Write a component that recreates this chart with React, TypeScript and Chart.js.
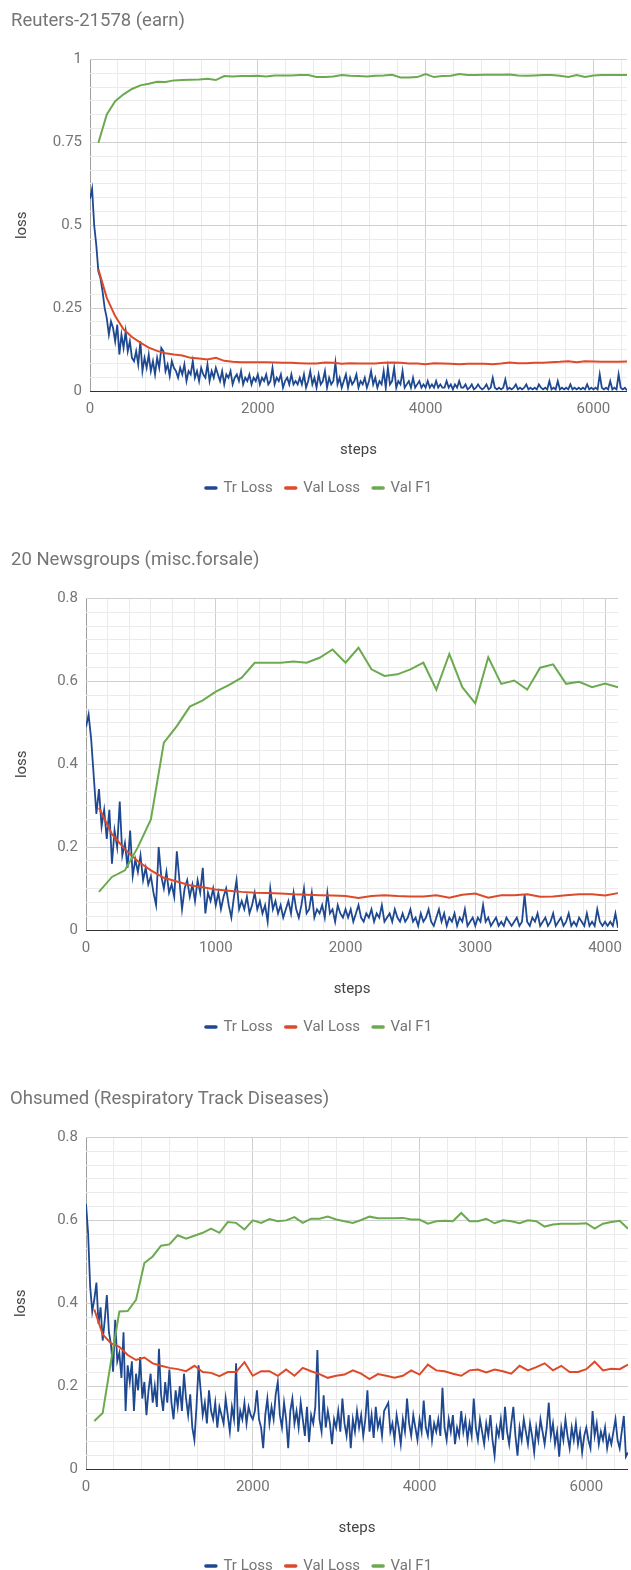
import React, { useEffect, useRef } from "react";
import { Chart, registerables } from "chart.js";

Chart.register(...registerables);

// ---------------- DATA ----------------
const SERIES_LABELS = ["Tr Loss", "Val Loss", "Val F1"];
const SERIES_COLORS = ["#1e4890", "#dd4a2a", "#6caa50"];

// Chart 1: Reuters-21578 (earn)
const TITLE_1 = "Reuters-21578 (earn)";
const TR_STEP_1 = 25;
const VAL_STEP_1 = 100;
const TR_LOSS_1 = [
  0.58, 0.61, 0.5, 0.44, 0.36, 0.34, 0.3, 0.25, 0.22, 0.17, 0.21, 0.19, 0.15, 0.2, 0.11, 0.17, 0.13, 0.18, 0.12, 0.15, 0.1,
  0.09, 0.12, 0.08, 0.15, 0.06, 0.1, 0.07, 0.11, 0.06, 0.09, 0.05, 0.1, 0.07, 0.13, 0.12, 0.06, 0.08, 0.045, 0.09, 0.07,
  0.06, 0.04, 0.07, 0.05, 0.08, 0.03, 0.06, 0.05, 0.09, 0.04, 0.06, 0.03, 0.07, 0.05, 0.04, 0.08, 0.03, 0.06, 0.04, 0.07,
  0.05, 0.03, 0.06, 0.02, 0.05, 0.04, 0.06, 0.02, 0.04, 0.05, 0.03, 0.06, 0.02, 0.04, 0.03, 0.05, 0.02, 0.04, 0.03, 0.05,
  0.02, 0.04, 0.03, 0.05, 0.02, 0.03, 0.07, 0.02, 0.04, 0.03, 0.05, 0.01, 0.03, 0.04, 0.02, 0.05, 0.02, 0.03, 0.02, 0.04,
  0.02, 0.05, 0.01, 0.03, 0.06, 0.02, 0.04, 0.01, 0.05, 0.02, 0.03, 0.06, 0.01, 0.04, 0.02, 0.03, 0.085, 0.02, 0.04, 0.01,
  0.03, 0.05, 0.01, 0.04, 0.02, 0.03, 0.05, 0.01, 0.03, 0.02, 0.04, 0.01, 0.03, 0.06, 0.02, 0.04, 0.01, 0.03, 0.02, 0.06,
  0.01, 0.07, 0.02, 0.03, 0.07, 0.01, 0.03, 0.02, 0.06, 0.01, 0.02, 0.03, 0.01, 0.04, 0.01, 0.02, 0.03, 0.01, 0.02, 0.01,
  0.03, 0.01, 0.02, 0.01, 0.03, 0.01, 0.02, 0.01, 0.01, 0.03, 0.01, 0.02, 0.005, 0.02, 0.01, 0.03, 0.01, 0.01, 0.02, 0.005,
  0.01, 0.02, 0.005, 0.01, 0.02, 0.01, 0.005, 0.01, 0.02, 0.005, 0.01, 0.04, 0.01, 0.005, 0.01, 0.005, 0.01, 0.035, 0.005, 0.01,
  0.005, 0.01, 0.02, 0.005, 0.01, 0.005, 0.01, 0.02, 0.005, 0.01, 0.005, 0.01, 0.005, 0.02, 0.01, 0.005, 0.01, 0.005, 0.03, 0.005,
  0.01, 0.005, 0.03, 0.005, 0.01, 0.005, 0.01, 0.005, 0.02, 0.005, 0.01, 0.005, 0.01, 0.005, 0.01, 0.005, 0.02, 0.005, 0.01, 0.005,
  0.01, 0.005, 0.05, 0.01, 0.005, 0.01, 0.005, 0.03, 0.005, 0.01, 0.005, 0.05, 0.01, 0.005, 0.01, 0.002,
];
const VAL_LOSS_1 = [
  0.367, 0.281, 0.226, 0.186, 0.163, 0.146, 0.131, 0.121, 0.114, 0.11,
  0.107, 0.1, 0.098, 0.095, 0.1, 0.091, 0.088, 0.087, 0.087, 0.087,
  0.087, 0.086, 0.085, 0.085, 0.084, 0.083, 0.083, 0.086, 0.085, 0.082,
  0.084, 0.083, 0.083, 0.083, 0.085, 0.086, 0.085, 0.083, 0.083, 0.081,
  0.084, 0.083, 0.082, 0.081, 0.082, 0.082, 0.082, 0.081, 0.083, 0.086,
  0.084, 0.084, 0.085, 0.085, 0.087, 0.088, 0.09, 0.087, 0.09, 0.089,
  0.088, 0.088, 0.088, 0.089,
];
const VAL_F1_1 = [
  0.749, 0.834, 0.874, 0.895, 0.911, 0.922, 0.927, 0.933, 0.932, 0.937,
  0.938, 0.939, 0.94, 0.942, 0.938, 0.95, 0.949, 0.95, 0.95, 0.951,
  0.949, 0.952, 0.952, 0.952, 0.953, 0.953, 0.947, 0.947, 0.949, 0.953,
  0.951, 0.95, 0.949, 0.951, 0.952, 0.954, 0.946, 0.946, 0.947, 0.956,
  0.947, 0.95, 0.951, 0.956, 0.953, 0.953, 0.954, 0.954, 0.954, 0.955,
  0.952, 0.951, 0.952, 0.953, 0.953, 0.951, 0.947, 0.953, 0.947, 0.952,
  0.953, 0.953, 0.953, 0.953,
];

// Chart 2: 20 Newsgroups (misc.forsale)
const TITLE_2 = "20 Newsgroups (misc.forsale)";
const TR_STEP_2 = 20;
const VAL_STEP_2 = 100;
const TR_LOSS_2 = [
  0.49, 0.52, 0.46, 0.37, 0.28, 0.34, 0.25, 0.29, 0.22, 0.29, 0.16,
  0.24, 0.2, 0.31, 0.18, 0.21, 0.15, 0.24, 0.13, 0.17, 0.14,
  0.18, 0.12, 0.15, 0.11, 0.13, 0.09, 0.06, 0.2, 0.13, 0.1,
  0.14, 0.09, 0.11, 0.08, 0.19, 0.12, 0.05, 0.1, 0.12, 0.08,
  0.11, 0.07, 0.12, 0.09, 0.15, 0.04, 0.09, 0.07, 0.1, 0.06,
  0.09, 0.05, 0.08, 0.1, 0.06, 0.03, 0.08, 0.12, 0.05, 0.07,
  0.05, 0.08, 0.04, 0.06, 0.09, 0.05, 0.07, 0.04, 0.06, 0.02,
  0.1, 0.05, 0.07, 0.04, 0.06, 0.03, 0.05, 0.07, 0.04, 0.09,
  0.05, 0.03, 0.06, 0.1, 0.04, 0.05, 0.09, 0.03, 0.05, 0.04,
  0.06, 0.03, 0.09, 0.04, 0.05, 0.02, 0.06, 0.04, 0.03, 0.05,
  0.03, 0.05, 0.02, 0.04, 0.06, 0.03, 0.02, 0.04, 0.03, 0.05,
  0.02, 0.04, 0.03, 0.06, 0.02, 0.03, 0.04, 0.02, 0.05, 0.03,
  0.02, 0.04, 0.02, 0.03, 0.05, 0.02, 0.03, 0.01, 0.04, 0.02,
  0.03, 0.05, 0.02, 0.01, 0.03, 0.05, 0.02, 0.04, 0.01, 0.03,
  0.02, 0.04, 0.01, 0.03, 0.02, 0.05, 0.01, 0.02, 0.03, 0.01,
  0.03, 0.02, 0.06, 0.02, 0.03, 0.01, 0.02, 0.03, 0.01, 0.02,
  0.01, 0.03, 0.02, 0.01, 0.02, 0.03, 0.01, 0.02, 0.085, 0.02,
  0.01, 0.03, 0.02, 0.04, 0.01, 0.02, 0.03, 0.01, 0.02, 0.04,
  0.01, 0.02, 0.03, 0.01, 0.02, 0.04, 0.01, 0.02, 0.01, 0.03,
  0.02, 0.01, 0.04, 0.01, 0.02, 0.01, 0.05, 0.02, 0.01, 0.02,
  0.01, 0.02, 0.01, 0.04, 0.005,
];
const VAL_LOSS_2 = [
  0.295, 0.231, 0.195, 0.166, 0.144, 0.126, 0.117, 0.108, 0.103, 0.098,
  0.095, 0.092, 0.09, 0.089, 0.088, 0.086, 0.085, 0.084, 0.083, 0.082,
  0.077, 0.082, 0.084, 0.082, 0.081, 0.081, 0.084, 0.078, 0.085, 0.088,
  0.078, 0.084, 0.084, 0.086, 0.08, 0.081, 0.084, 0.086, 0.086, 0.083,
  0.089,
];
const VAL_F1_2 = [
  0.092, 0.128, 0.144, 0.2, 0.267, 0.452, 0.492, 0.539, 0.554, 0.575,
  0.591, 0.609, 0.645, 0.645, 0.645, 0.648, 0.645, 0.657, 0.677, 0.645,
  0.681, 0.629, 0.613, 0.617, 0.629, 0.645, 0.58, 0.666, 0.586, 0.547,
  0.658, 0.594, 0.602, 0.58, 0.633, 0.641, 0.594, 0.599, 0.586, 0.595,
  0.586,
];

// Chart 3: Ohsumed (Respiratory Track Diseases)
const TITLE_3 = "Ohsumed (Respiratory Track Diseases)";
const TR_STEP_3 = 25;
const VAL_STEP_3 = 100;
const TR_LOSS_3 = [
  0.64, 0.57, 0.44, 0.38, 0.41, 0.45, 0.35, 0.39, 0.31, 0.36, 0.42, 0.33, 0.3, 0.235, 0.36, 0.26, 0.28, 0.22, 0.33, 0.14, 0.25,
  0.21, 0.26, 0.14, 0.23, 0.19, 0.27, 0.17, 0.21, 0.13, 0.19, 0.23, 0.16, 0.2, 0.15, 0.29, 0.18, 0.14, 0.21, 0.16, 0.24,
  0.16, 0.12, 0.19, 0.15, 0.2, 0.14, 0.23, 0.17, 0.13, 0.18, 0.1, 0.07, 0.15, 0.25, 0.19, 0.13, 0.16, 0.11, 0.19, 0.14,
  0.12, 0.16, 0.1, 0.15, 0.13, 0.11, 0.17, 0.13, 0.09, 0.15, 0.12, 0.255, 0.09, 0.14, 0.12, 0.16, 0.11, 0.15, 0.13, 0.12,
  0.14, 0.19, 0.12, 0.1, 0.05, 0.13, 0.17, 0.11, 0.15, 0.12, 0.18, 0.21, 0.13, 0.1, 0.16, 0.12, 0.05, 0.14, 0.17, 0.11,
  0.14, 0.1, 0.16, 0.12, 0.08, 0.15, 0.065, 0.13, 0.11, 0.15, 0.287, 0.12, 0.09, 0.178, 0.1, 0.14, 0.11, 0.06, 0.12, 0.1,
  0.14, 0.09, 0.17, 0.11, 0.08, 0.13, 0.05, 0.12, 0.09, 0.14, 0.1, 0.13, 0.08, 0.12, 0.19, 0.09, 0.13, 0.075, 0.15, 0.1,
  0.12, 0.08, 0.14, 0.15, 0.16, 0.09, 0.11, 0.07, 0.13, 0.1, 0.06, 0.12, 0.09, 0.17, 0.11, 0.08, 0.13, 0.1, 0.07, 0.12,
  0.09, 0.165, 0.1, 0.08, 0.13, 0.07, 0.11, 0.09, 0.12, 0.08, 0.196, 0.1, 0.07, 0.12, 0.09, 0.13, 0.06, 0.1, 0.08, 0.14,
  0.09, 0.12, 0.07, 0.11, 0.08, 0.17, 0.1, 0.07, 0.12, 0.09, 0.06, 0.11, 0.08, 0.13, 0.07, 0.032, 0.1, 0.08, 0.12, 0.07,
  0.15, 0.09, 0.06, 0.11, 0.15, 0.08, 0.032, 0.1, 0.07, 0.12, 0.09, 0.06, 0.11, 0.08, 0.04, 0.1, 0.07, 0.12, 0.09, 0.06,
  0.1, 0.16, 0.08, 0.11, 0.06, 0.09, 0.03, 0.1, 0.07, 0.12, 0.08, 0.05, 0.1, 0.07, 0.11, 0.06, 0.09, 0.04, 0.08, 0.1,
  0.07, 0.05, 0.14, 0.08, 0.11, 0.06, 0.09, 0.07, 0.1, 0.05, 0.08, 0.06, 0.09, 0.12, 0.07, 0.05, 0.09, 0.128, 0.03, 0.04,
];
const VAL_LOSS_3 = [
  0.385, 0.325, 0.303, 0.295, 0.275, 0.263, 0.269, 0.255, 0.249, 0.244,
  0.241, 0.236, 0.249, 0.234, 0.232, 0.224, 0.234, 0.234, 0.258, 0.225,
  0.236, 0.236, 0.225, 0.24, 0.225, 0.244, 0.236, 0.229, 0.22, 0.225,
  0.228, 0.238, 0.23, 0.217, 0.229, 0.225, 0.22, 0.225, 0.238, 0.228,
  0.252, 0.238, 0.236, 0.23, 0.225, 0.238, 0.24, 0.233, 0.24, 0.236,
  0.23, 0.249, 0.238, 0.246, 0.255, 0.238, 0.249, 0.234, 0.234, 0.241,
  0.259, 0.238, 0.242, 0.241, 0.252,
];
const VAL_F1_3 = [
  0.116, 0.135, 0.26, 0.38, 0.381, 0.408, 0.497, 0.513, 0.539, 0.542,
  0.564, 0.556, 0.563, 0.57, 0.58, 0.57, 0.596, 0.594, 0.578, 0.6,
  0.594, 0.603, 0.598, 0.6, 0.608, 0.594, 0.604, 0.604, 0.609, 0.602,
  0.598, 0.594, 0.601, 0.609, 0.605, 0.605, 0.605, 0.606, 0.602, 0.602,
  0.592, 0.598, 0.599, 0.598, 0.618, 0.598, 0.598, 0.604, 0.593, 0.6,
  0.598, 0.593, 0.6, 0.598, 0.585, 0.59, 0.592, 0.592, 0.592, 0.593,
  0.58, 0.592, 0.596, 0.599, 0.58,
];

// --------------- STYLE / LAYOUT ---------------
const FONT = "Roboto, 'Noto Sans', Arial, sans-serif";
const TEXT_GRAY = "#757575";
const AXIS_TITLE = "#444444";
const CANVAS_W = 631;
const CANVAS_H = 505;

type PanelProps = {
  title: string;
  trLoss: number[];
  trStep: number;
  valLoss: number[];
  valF1: number[];
  valStep: number;
  xMax: number;
  xMajor: number;
  yMax: number;
  yMajor: number;
  padLeft: number;
  padRight: number;
  yWidth: number;
  top: number;
};

const isMajor = (v: number, major: number) => Math.abs(v / major - Math.round(v / major)) < 1e-6;

const buildTicks = (max: number, major: number) => {
  const minor = major / 6;
  const out: { value: number }[] = [];
  for (let i = 0; i * minor <= max + 1e-9; i++) out.push({ value: i * minor });
  return out;
};

function Panel(p: PanelProps) {
  const ref = useRef<HTMLCanvasElement | null>(null);
  useEffect(() => {
    if (!ref.current) return;
    const font = { family: FONT, size: 15 };
    const chart = new Chart(ref.current, {
      type: "line",
      data: {
        datasets: [
          {
            label: SERIES_LABELS[0],
            data: p.trLoss.map((y, i) => ({ x: i * p.trStep, y })),
            borderColor: SERIES_COLORS[0],
            backgroundColor: SERIES_COLORS[0],
            borderWidth: 1.8,
            pointRadius: 0,
            tension: 0,
            order: 3,
          },
          {
            label: SERIES_LABELS[1],
            data: p.valLoss.map((y, i) => ({ x: (i + 1) * p.valStep, y })),
            borderColor: SERIES_COLORS[1],
            backgroundColor: SERIES_COLORS[1],
            borderWidth: 2,
            pointRadius: 0,
            tension: 0,
            order: 2,
          },
          {
            label: SERIES_LABELS[2],
            data: p.valF1.map((y, i) => ({ x: (i + 1) * p.valStep, y })),
            borderColor: SERIES_COLORS[2],
            backgroundColor: SERIES_COLORS[2],
            borderWidth: 2,
            pointRadius: 0,
            tension: 0,
            order: 1,
          },
        ],
      },
      options: {
        responsive: false,
        animation: false,
        layout: { padding: { left: p.padLeft, right: p.padRight, top: 0, bottom: 0.5 } },
        plugins: {
          title: {
            display: true,
            text: p.title,
            align: "start",
            color: TEXT_GRAY,
            font: { family: FONT, size: 18.5, weight: "normal" },
            padding: { top: 9, bottom: 27.3 },
          },
          legend: {
            display: true,
            position: "bottom",
            align: "center",
            labels: {
              usePointStyle: true,
              pointStyleWidth: 10,
              padding: 13,
              color: TEXT_GRAY,
              font,
              generateLabels: (c: any) =>
                c.data.datasets.map((ds: any, i: number) => ({
                  text: ds.label,
                  fillStyle: ds.borderColor,
                  strokeStyle: ds.borderColor,
                  lineWidth: 3.5,
                  lineCap: "round",
                  pointStyle: "line",
                  hidden: false,
                  datasetIndex: i,
                  fontColor: TEXT_GRAY,
                })),
            },
          },
          tooltip: { enabled: false },
        },
        scales: {
          x: {
            type: "linear",
            min: 0,
            max: p.xMax,
            afterBuildTicks: (s: any) => {
              s.ticks = buildTicks(p.xMax, p.xMajor);
            },
            afterFit: (s: any) => {
              s.height = 76.5;
            },
            ticks: {
              autoSkip: false,
              maxRotation: 0,
              padding: 9,
              color: TEXT_GRAY,
              font,
              callback: (v: any) => (isMajor(Number(v), p.xMajor) ? String(Math.round(Number(v))) : ""),
            },
            grid: {
              drawTicks: false,
              lineWidth: 1,
              color: (ctx: any) => {
                const v = ctx.tick ? ctx.tick.value : 1;
                if (Math.abs(v) < 1e-9) return "#9e9e9e";
                return isMajor(v, p.xMajor) ? "#cfcfcf" : "#ebebeb";
              },
            },
            border: { display: false },
            title: {
              display: true,
              text: "steps",
              color: AXIS_TITLE,
              font,
              padding: { top: 0, bottom: 8.5 },
            },
          },
          y: {
            type: "linear",
            min: 0,
            max: p.yMax,
            afterBuildTicks: (s: any) => {
              s.ticks = buildTicks(p.yMax, p.yMajor);
            },
            afterFit: (s: any) => {
              s.width = p.yWidth;
            },
            ticks: {
              autoSkip: false,
              padding: 8,
              color: TEXT_GRAY,
              font,
              callback: (v: any) => (isMajor(Number(v), p.yMajor) ? String(+Number(v).toFixed(2)) : ""),
            },
            grid: {
              drawTicks: false,
              lineWidth: 1,
              color: (ctx: any) => {
                const v = ctx.tick ? ctx.tick.value : 1;
                if (Math.abs(v) < 1e-9) return "#333333";
                return isMajor(v, p.yMajor) ? "#cfcfcf" : "#ebebeb";
              },
            },
            border: { display: false },
            title: {
              display: true,
              text: "loss",
              color: AXIS_TITLE,
              font,
              padding: { top: 2, bottom: 0 },
            },
          },
        },
      },
    } as any);
    return () => chart.destroy();
  }, []);
  return (
    <div style={{ position: "absolute", left: 0, top: p.top, width: CANVAS_W, height: CANVAS_H }}>
      <canvas ref={ref} width={CANVAS_W} height={CANVAS_H} style={{ display: "block", width: CANVAS_W, height: CANVAS_H }} />
    </div>
  );
}

export default function App() {
  return (
    <div style={{ position: "absolute", left: 0, top: 0, width: CANVAS_W, height: 1570, background: "#fff", overflow: "hidden" }}>
      <Panel
        title={TITLE_1}
        trLoss={TR_LOSS_1}
        trStep={TR_STEP_1}
        valLoss={VAL_LOSS_1}
        valF1={VAL_F1_1}
        valStep={VAL_STEP_1}
        xMax={6400}
        xMajor={2000}
        yMax={1}
        yMajor={0.25}
        padLeft={11}
        padRight={4}
        yWidth={79}
        top={0.5}
      />
      <Panel
        title={TITLE_2}
        trLoss={TR_LOSS_2}
        trStep={TR_STEP_2}
        valLoss={VAL_LOSS_2}
        valF1={VAL_F1_2}
        valStep={VAL_STEP_2}
        xMax={4100}
        xMajor={1000}
        yMax={0.8}
        yMajor={0.2}
        padLeft={11}
        padRight={4}
        yWidth={75}
        top={540}
      />
      <Panel
        title={TITLE_3}
        trLoss={TR_LOSS_3}
        trStep={TR_STEP_3}
        valLoss={VAL_LOSS_3}
        valF1={VAL_F1_3}
        valStep={VAL_STEP_3}
        xMax={6500}
        xMajor={2000}
        yMax={0.8}
        yMajor={0.2}
        padLeft={10}
        padRight={3}
        yWidth={76}
        top={1078.5}
      />
    </div>
  );
}
